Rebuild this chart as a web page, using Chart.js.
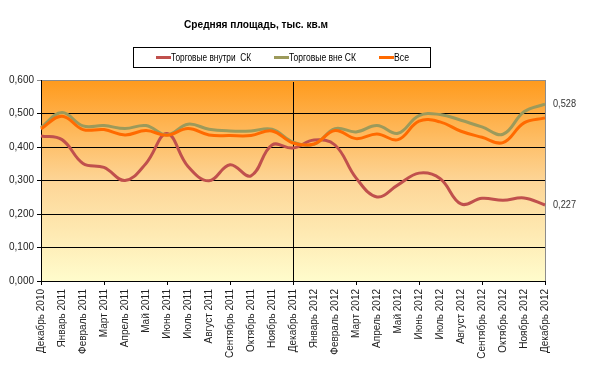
<!DOCTYPE html>
<html>
<head>
<meta charset="utf-8">
<script src="https://cdn.jsdelivr.net/npm/chart.js@4.4.0/dist/chart.umd.min.js"></script>
<style>
  html, body { margin: 0; padding: 0; background: #fff; }
  #wrap { width: 600px; height: 368px; }
</style>
</head>
<body>
<div id="wrap"><canvas id="chart" width="600" height="368"></canvas></div>
<script>
const chartTitle = 'Средняя площадь, тыс. кв.м';

const months = [
  'Декабрь 2010', 'Январь 2011', 'Февраль 2011', 'Март 2011', 'Апрель 2011',
  'Май 2011', 'Июнь 2011', 'Июль 2011', 'Август 2011', 'Сентябрь 2011',
  'Октябрь 2011', 'Ноябрь 2011', 'Декабрь 2011', 'Январь 2012', 'Февраль 2012',
  'Март 2012', 'Апрель 2012', 'Май 2012', 'Июнь 2012', 'Июль 2012',
  'Август 2012', 'Сентябрь 2012', 'Октябрь 2012', 'Ноябрь 2012', 'Декабрь 2012'
];

const seriesNames = ['Торговые внутри  СК', 'Торговые вне СК', 'Все'];

const insideMall = [0.433, 0.422, 0.351, 0.339, 0.300, 0.351, 0.440, 0.342, 0.299, 0.347, 0.314, 0.406, 0.397,
                    0.421, 0.406, 0.308, 0.251, 0.287, 0.322, 0.306, 0.230, 0.247, 0.241, 0.248, 0.227];
const outsideMall = [0.458, 0.503, 0.463, 0.464, 0.455, 0.464, 0.436, 0.468, 0.453, 0.448, 0.448, 0.453, 0.415,
                     0.408, 0.455, 0.445, 0.464, 0.441, 0.494, 0.497, 0.480, 0.460, 0.438, 0.505, 0.528];
const allShops = [0.454, 0.492, 0.452, 0.452, 0.436, 0.449, 0.435, 0.455, 0.436, 0.434, 0.434, 0.448, 0.412,
                  0.409, 0.449, 0.425, 0.439, 0.422, 0.477, 0.475, 0.447, 0.429, 0.413, 0.472, 0.487];

const yTicks = [0, 0.1, 0.2, 0.3, 0.4, 0.5, 0.6];
const dividerMonth = 'Декабрь 2011';
const lineColors = ['#C0504D', '#9C9A5B', '#FF6A00'];

const FONT = '"Liberation Sans", Arial, sans-serif';
const fmt = v => v.toFixed(3).replace('.', ',');

// orange gradient behind plot + right border
const backgroundPlugin = {
  id: 'plotBackground',
  beforeDraw(chart) {
    const { ctx, chartArea: a } = chart;
    const g = ctx.createLinearGradient(0, a.top, 0, a.bottom);
    g.addColorStop(0, '#FF9A1C');
    g.addColorStop(0.5, '#FDD596');
    g.addColorStop(1, '#FFFCCC');
    ctx.save();
    ctx.fillStyle = g;
    ctx.fillRect(a.left, a.top, a.right - a.left, a.bottom - a.top);
    ctx.strokeStyle = '#8c8c8c';
    ctx.lineWidth = 1;
    ctx.beginPath();
    ctx.moveTo(a.right + 0.5, a.top);
    ctx.lineTo(a.right + 0.5, a.bottom);
    ctx.stroke();
    ctx.restore();
  },
  beforeDatasetsDraw(chart) {
    // vertical divider at Dec 2011
    const { ctx, chartArea: a, scales } = chart;
    const x = Math.round(scales.x.getPixelForValue(months.indexOf(dividerMonth))) + 0.5;
    ctx.save();
    ctx.strokeStyle = '#000';
    ctx.lineWidth = 1;
    ctx.beginPath();
    ctx.moveTo(x, a.top + 2);
    ctx.lineTo(x, a.bottom);
    ctx.stroke();
    ctx.restore();
  }
};

// title, boxed legend, end-of-line value labels
const annotationsPlugin = {
  id: 'annotations',
  afterDraw(chart) {
    const { ctx } = chart;
    ctx.save();
    ctx.fillStyle = '#000';
    ctx.textBaseline = 'middle';
    ctx.textAlign = 'center';
    ctx.font = 'bold 11px ' + FONT;
    ctx.fillText(chartTitle, 256, 25, 144);

    ctx.strokeStyle = '#000';
    ctx.lineWidth = 1;
    ctx.strokeRect(133.5, 47.5, 297, 20);
    ctx.font = '10.5px ' + FONT;
    ctx.textAlign = 'left';
    const starts = [156, 274, 379];
    const widths = [80, 67, 15];
    seriesNames.forEach((name, i) => {
      ctx.strokeStyle = lineColors[i];
      ctx.lineWidth = 3;
      ctx.beginPath();
      ctx.moveTo(starts[i], 57.5);
      ctx.lineTo(starts[i] + 15, 57.5);
      ctx.stroke();
      ctx.fillStyle = '#000';
      ctx.fillText(name, starts[i] + 15, 58, widths[i]);
    });

    ctx.fillStyle = '#333';
    ctx.font = '10px ' + FONT;
    [0, 1].forEach(di => {
      const meta = chart.getDatasetMeta(di);
      const pt = meta.data[meta.data.length - 1];
      const data = chart.data.datasets[di].data;
      ctx.fillText(fmt(data[data.length - 1]), pt.x + 8, pt.y, 23);
    });
    ctx.restore();
  }
};

new Chart(document.getElementById('chart'), {
  type: 'line',
  data: {
    labels: months,
    datasets: [
      { label: seriesNames[0], data: insideMall, borderColor: lineColors[0], order: 3 },
      { label: seriesNames[1], data: outsideMall, borderColor: lineColors[1], order: 2 },
      { label: seriesNames[2], data: allShops, borderColor: lineColors[2], order: 1 }
    ]
  },
  options: {
    responsive: false,
    animation: false,
    layout: { padding: { top: 80, left: 5, right: 55, bottom: 0 } },
    elements: {
      line: { borderWidth: 3, tension: 0.4, fill: false },
      point: { radius: 0 }
    },
    plugins: {
      legend: { display: false },
      title: { display: false },
      tooltip: { enabled: false }
    },
    scales: {
      x: {
        offset: false,
        afterFit: s => { s.height = 87; },
        border: { color: '#000', width: 1 },
        grid: {
          drawOnChartArea: false,
          tickLength: 4,
          color: c => (c.index % 3 === 0 ? '#000' : 'rgba(0,0,0,0)')
        },
        ticks: {
          autoSkip: false,
          minRotation: 90,
          maxRotation: 90,
          padding: 4,
          color: '#222',
          font: { family: FONT, size: 10 }
        }
      },
      y: {
        min: yTicks[0],
        max: yTicks[yTicks.length - 1],
        afterFit: s => { s.width = 36; },
        afterBuildTicks: s => { s.ticks = yTicks.map(v => ({ value: v })); },
        border: { color: '#000', width: 1 },
        grid: {
          tickLength: 4,
          color: c => (c.tick && c.tick.value === 0.6 ? '#8c8c8c' : '#000')
        },
        ticks: {
          padding: 3,
          color: '#222',
          font: { family: FONT, size: 10 },
          callback: v => fmt(v)
        }
      }
    }
  },
  plugins: [backgroundPlugin, annotationsPlugin]
});
</script>
</body>
</html>
